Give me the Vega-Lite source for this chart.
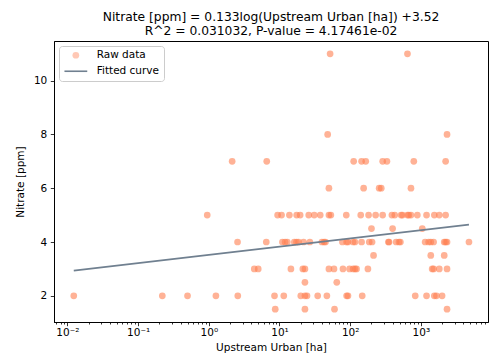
{
  "$schema": "https://vega.github.io/schema/vega-lite/v6.json",
  "width": 434,
  "height": 281,
  "autosize": {"type": "none"},
  "padding": {"left": 54, "top": 41, "right": 2, "bottom": 40},
  "background": "white",
  "title": {
    "text": ["Nitrate [ppm] = 0.133log(Upstream Urban [ha]) +3.52", "R^2 = 0.031032, P-value = 4.17461e-02"],
    "font": "DejaVu Sans",
    "fontSize": 12.3,
    "fontWeight": "normal",
    "color": "black",
    "lineHeight": 14,
    "offset": 4,
    "anchor": "middle"
  },
  "datasets": {
    "raw": [
      {"x": 0.0123, "y": 2, "series": "Raw data"},
      {"x": 0.22, "y": 2, "series": "Raw data"},
      {"x": 0.50, "y": 2, "series": "Raw data"},
      {"x": 1.26, "y": 2, "series": "Raw data"},
      {"x": 2.57, "y": 2, "series": "Raw data"},
      {"x": 8.5, "y": 2, "series": "Raw data"},
      {"x": 11.5, "y": 2, "series": "Raw data"},
      {"x": 20, "y": 2, "series": "Raw data"},
      {"x": 22.9, "y": 2, "series": "Raw data"},
      {"x": 24.5, "y": 2, "series": "Raw data"},
      {"x": 34.7, "y": 2, "series": "Raw data"},
      {"x": 46.8, "y": 2, "series": "Raw data"},
      {"x": 89, "y": 2, "series": "Raw data"},
      {"x": 93, "y": 2, "series": "Raw data"},
      {"x": 148, "y": 2, "series": "Raw data"},
      {"x": 832, "y": 2, "series": "Raw data"},
      {"x": 1202, "y": 2, "series": "Raw data"},
      {"x": 1549, "y": 2, "series": "Raw data"},
      {"x": 1660, "y": 2, "series": "Raw data"},
      {"x": 1995, "y": 2, "series": "Raw data"},
      {"x": 8.7, "y": 1.5, "series": "Raw data"},
      {"x": 22.9, "y": 1.5, "series": "Raw data"},
      {"x": 60, "y": 1.5, "series": "Raw data"},
      {"x": 2344, "y": 1.5, "series": "Raw data"},
      {"x": 22.9, "y": 2.5, "series": "Raw data"},
      {"x": 64.6, "y": 2.5, "series": "Raw data"},
      {"x": 4.4, "y": 3, "series": "Raw data"},
      {"x": 5.0, "y": 3, "series": "Raw data"},
      {"x": 14.5, "y": 3, "series": "Raw data"},
      {"x": 21.4, "y": 3, "series": "Raw data"},
      {"x": 22.9, "y": 3, "series": "Raw data"},
      {"x": 50, "y": 3, "series": "Raw data"},
      {"x": 59, "y": 3, "series": "Raw data"},
      {"x": 79, "y": 3, "series": "Raw data"},
      {"x": 98, "y": 3, "series": "Raw data"},
      {"x": 110, "y": 3, "series": "Raw data"},
      {"x": 117, "y": 3, "series": "Raw data"},
      {"x": 123, "y": 3, "series": "Raw data"},
      {"x": 178, "y": 3, "series": "Raw data"},
      {"x": 1445, "y": 3, "series": "Raw data"},
      {"x": 1514, "y": 3, "series": "Raw data"},
      {"x": 1820, "y": 3, "series": "Raw data"},
      {"x": 2344, "y": 3, "series": "Raw data"},
      {"x": 214, "y": 3.5, "series": "Raw data"},
      {"x": 1380, "y": 3.5, "series": "Raw data"},
      {"x": 2138, "y": 3.5, "series": "Raw data"},
      {"x": 2.55, "y": 4, "series": "Raw data"},
      {"x": 6.5, "y": 4, "series": "Raw data"},
      {"x": 11, "y": 4, "series": "Raw data"},
      {"x": 12, "y": 4, "series": "Raw data"},
      {"x": 12.9, "y": 4, "series": "Raw data"},
      {"x": 16.2, "y": 4, "series": "Raw data"},
      {"x": 17.4, "y": 4, "series": "Raw data"},
      {"x": 18.6, "y": 4, "series": "Raw data"},
      {"x": 21.9, "y": 4, "series": "Raw data"},
      {"x": 26.9, "y": 4, "series": "Raw data"},
      {"x": 39.8, "y": 4, "series": "Raw data"},
      {"x": 42.7, "y": 4, "series": "Raw data"},
      {"x": 44.7, "y": 4, "series": "Raw data"},
      {"x": 77.6, "y": 4, "series": "Raw data"},
      {"x": 89, "y": 4, "series": "Raw data"},
      {"x": 93, "y": 4, "series": "Raw data"},
      {"x": 110, "y": 4, "series": "Raw data"},
      {"x": 117, "y": 4, "series": "Raw data"},
      {"x": 145, "y": 4, "series": "Raw data"},
      {"x": 186, "y": 4, "series": "Raw data"},
      {"x": 204, "y": 4, "series": "Raw data"},
      {"x": 347, "y": 4, "series": "Raw data"},
      {"x": 355, "y": 4, "series": "Raw data"},
      {"x": 447, "y": 4, "series": "Raw data"},
      {"x": 490, "y": 4, "series": "Raw data"},
      {"x": 513, "y": 4, "series": "Raw data"},
      {"x": 1148, "y": 4, "series": "Raw data"},
      {"x": 1288, "y": 4, "series": "Raw data"},
      {"x": 1380, "y": 4, "series": "Raw data"},
      {"x": 1514, "y": 4, "series": "Raw data"},
      {"x": 2138, "y": 4, "series": "Raw data"},
      {"x": 2239, "y": 4, "series": "Raw data"},
      {"x": 2344, "y": 4, "series": "Raw data"},
      {"x": 4786, "y": 4, "series": "Raw data"},
      {"x": 200, "y": 4.5, "series": "Raw data"},
      {"x": 398, "y": 4.5, "series": "Raw data"},
      {"x": 1047, "y": 4.5, "series": "Raw data"},
      {"x": 0.95, "y": 5, "series": "Raw data"},
      {"x": 9.4, "y": 5, "series": "Raw data"},
      {"x": 10.7, "y": 5, "series": "Raw data"},
      {"x": 13.8, "y": 5, "series": "Raw data"},
      {"x": 17.5, "y": 5, "series": "Raw data"},
      {"x": 19.6, "y": 5, "series": "Raw data"},
      {"x": 25.9, "y": 5, "series": "Raw data"},
      {"x": 31.0, "y": 5, "series": "Raw data"},
      {"x": 37.7, "y": 5, "series": "Raw data"},
      {"x": 50, "y": 5, "series": "Raw data"},
      {"x": 53.3, "y": 5, "series": "Raw data"},
      {"x": 88, "y": 5, "series": "Raw data"},
      {"x": 141, "y": 5, "series": "Raw data"},
      {"x": 182, "y": 5, "series": "Raw data"},
      {"x": 229, "y": 5, "series": "Raw data"},
      {"x": 288, "y": 5, "series": "Raw data"},
      {"x": 389, "y": 5, "series": "Raw data"},
      {"x": 427, "y": 5, "series": "Raw data"},
      {"x": 525, "y": 5, "series": "Raw data"},
      {"x": 550, "y": 5, "series": "Raw data"},
      {"x": 646, "y": 5, "series": "Raw data"},
      {"x": 676, "y": 5, "series": "Raw data"},
      {"x": 724, "y": 5, "series": "Raw data"},
      {"x": 891, "y": 5, "series": "Raw data"},
      {"x": 1202, "y": 5, "series": "Raw data"},
      {"x": 1549, "y": 5, "series": "Raw data"},
      {"x": 1820, "y": 5, "series": "Raw data"},
      {"x": 2239, "y": 5, "series": "Raw data"},
      {"x": 50, "y": 6, "series": "Raw data"},
      {"x": 155, "y": 6, "series": "Raw data"},
      {"x": 257, "y": 6, "series": "Raw data"},
      {"x": 275, "y": 6, "series": "Raw data"},
      {"x": 724, "y": 6, "series": "Raw data"},
      {"x": 2.14, "y": 7, "series": "Raw data"},
      {"x": 6.6, "y": 7, "series": "Raw data"},
      {"x": 112, "y": 7, "series": "Raw data"},
      {"x": 145, "y": 7, "series": "Raw data"},
      {"x": 166, "y": 7, "series": "Raw data"},
      {"x": 288, "y": 7, "series": "Raw data"},
      {"x": 331, "y": 7, "series": "Raw data"},
      {"x": 794, "y": 7, "series": "Raw data"},
      {"x": 2239, "y": 7, "series": "Raw data"},
      {"x": 48, "y": 8, "series": "Raw data"},
      {"x": 2344, "y": 8, "series": "Raw data"},
      {"x": 52, "y": 11, "series": "Raw data"},
      {"x": 646, "y": 11, "series": "Raw data"}
    ],
    "fit": [
      {"x": 0.0123, "y": 2.935},
      {"x": 1, "y": 3.52},
      {"x": 4786, "y": 4.647}
    ]
  },
  "layer": [
    {
      "data": {"name": "raw"},
      "mark": {"type": "point", "filled": true, "size": 45, "strokeWidth": 0},
      "encoding": {
        "x": {
          "field": "x", "type": "quantitative",
          "scale": {"type": "log", "domain": [0.00646, 8900], "nice": false},
          "axis": {
            "title": "Upstream Urban [ha]",
            "values": [0.01, 0.1, 1, 10, 100, 1000],
            "labelExpr": "datum.value < 0.05 ? '10⁻²' : datum.value < 0.5 ? '10⁻¹' : datum.value < 5 ? '10⁰' : datum.value < 50 ? '10¹' : datum.value < 500 ? '10²' : '10³'",
            "tickSize": 3.7,
            "labelPadding": 2,
            "titlePadding": 4,
            "labelFlush": false
          }
        },
        "y": {
          "field": "y", "type": "quantitative",
          "scale": {"domain": [1.025, 11.475], "nice": false, "zero": false},
          "axis": {"title": "Nitrate [ppm]", "values": [2, 4, 6, 8, 10], "tickSize": 3.7, "labelPadding": 3.5, "titlePadding": 8}
        },
        "fill": {
          "field": "series", "type": "nominal",
          "scale": {"domain": ["Raw data", "Fitted curve"], "range": ["coral", "transparent"]},
          "legend": {
            "title": null,
            "orient": "top-left",
            "offset": 5,
            "padding": 4,
            "fillColor": "rgba(255,255,255,0.8)",
            "strokeColor": "#cccccc",
            "cornerRadius": 3,
            "labelFont": "DejaVu Sans",
            "labelFontSize": 10.5,
            "labelColor": "black",
            "symbolSize": 45,
            "symbolStrokeWidth": 1.6,
            "symbolOffset": 7.6,
            "labelOffset": 15.6,
            "rowPadding": 4
          }
        },
        "stroke": {
          "field": "series", "type": "nominal",
          "scale": {"domain": ["Raw data", "Fitted curve"], "range": ["transparent", "#708090"]}
        },
        "shape": {
          "field": "series", "type": "nominal",
          "scale": {"domain": ["Raw data", "Fitted curve"], "range": ["circle", "M-3.4,0H3.4"]}
        },
        "opacity": {
          "field": "series", "type": "nominal",
          "scale": {"domain": ["Raw data", "Fitted curve"], "range": [0.6, 1]}
        }
      }
    },
    {
      "data": {"name": "fit"},
      "mark": {"type": "line", "color": "#708090", "strokeWidth": 1.6},
      "encoding": {
        "x": {
          "field": "x", "type": "quantitative",
          "axis": {
            "orient": "bottom",
            "title": null,
            "labels": false,
            "domain": false,
            "tickSize": 2,
            "values": [0.007, 0.008, 0.009, 0.02, 0.03, 0.04, 0.05, 0.06, 0.07, 0.08, 0.09, 0.2, 0.3, 0.4, 0.5, 0.6, 0.7, 0.8, 0.9, 2, 3, 4, 5, 6, 7, 8, 9, 20, 30, 40, 50, 60, 70, 80, 90, 200, 300, 400, 500, 600, 700, 800, 900, 2000, 3000, 4000, 5000, 6000, 7000, 8000]
          }
        },
        "y": {"field": "y", "type": "quantitative"}
      }
    }
  ],
  "resolve": {"axis": {"x": "independent"}},
  "config": {
    "view": {"stroke": "black", "strokeWidth": 1},
    "axis": {
      "domainColor": "black",
      "tickColor": "black",
      "labelColor": "black",
      "titleColor": "black",
      "labelFont": "DejaVu Sans",
      "titleFont": "DejaVu Sans",
      "labelFontSize": 10.5,
      "titleFontSize": 10.5,
      "titleFontWeight": "normal",
      "grid": false,
      "domainWidth": 1,
      "tickWidth": 0.8
    }
  }
}
